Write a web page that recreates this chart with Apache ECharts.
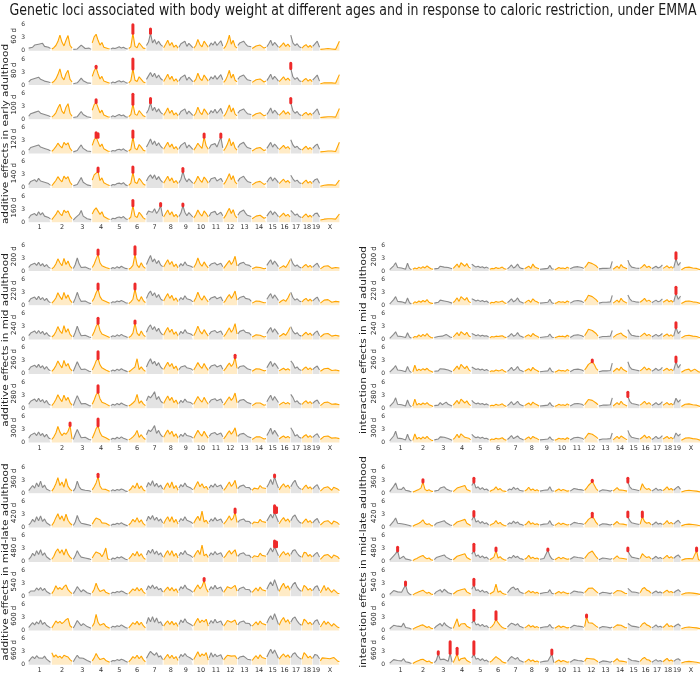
<!DOCTYPE html>
<html>
<head>
<meta charset="utf-8">
<script src="https://cdn.jsdelivr.net/npm/echarts@6/dist/echarts.min.js"></script>
<style>html,body{margin:0;padding:0;background:#fff}#c{width:700px;height:673px}</style>
</head>
<body>
<div id="c"></div>
<script>
// ---------- chromosome axis ----------
const chrNames = ['1','2','3','4','5','6','7','8','9','10','11','12','13','14','15','16','17','18','19','X'];
const chrLengths = [195.5,182.1,160.0,156.5,151.8,149.7,145.4,129.4,124.6,130.7,122.1,120.1,120.4,124.9,104.0,98.2,95.3,90.7,61.4,171.0];
const yTickValues = [0,3,6];

const titleText = 'Genetic loci associated with body weight at different ages and in response to caloric restriction, under EMMA';
const groupLabels = ['additive effects in early adulthood','additive effects in mid adulthood','additive effects in mid-late adulthood','interaction effects in mid adulthood','interaction effects in mid-late adulthood'];
const earlyAges = ['60 d','80 d','100 d','120 d','140 d','160 d'];
const midAges = ['200 d','220 d','240 d','260 d','280 d','300 d'];
const lateAges = ['360 d','420 d','480 d','540 d','600 d','660 d'];

// ---------- -log10(p) traces, one sub-array per chromosome ----------
const a060 = [
[0.6,1.0,0.8,1.3,0.9,1.5,1.1,1.7,1.0,1.4,0.8,0.5],[0.4,0.7,1.2,2.1,3.6,2.0,1.1,2.4,3.5,1.2,0.6],[0.3,0.5,0.4,0.8,1.3,0.9,0.5,0.4,0.6,0.3],[1.8,3.2,3.8,2.4,1.3,1.9,0.8,0.6,0.5,0.4],[0.4,0.6,0.5,0.7,0.9,0.6,0.8,0.5,0.4],[0.5,0.9,4.0,1.0,0.7,1.8,1.2,0.6,0.5],[1.2,2.0,4.0,1.8,2.6,1.5,2.2,1.4,1.0],[0.7,1.5,2.4,1.2,1.9,0.8,1.3,0.6],[0.8,1.6,1.2,2.2,1.0,1.7,1.3,0.7],[0.6,1.2,2.6,1.4,0.9,2.2,1.5,0.8],[1.0,1.8,1.3,2.1,1.2,1.6,2.3,1.1],[0.5,1.0,2.0,3.6,1.5,2.4,1.0,0.6],[1.2,1.8,1.4,2.2,1.6,1.1,1.5,0.9],[0.5,0.8,1.1,0.7,1.3,0.9,0.6,0.8],[0.9,1.6,2.4,1.2,1.9,1.4,0.8],[0.7,1.2,1.8,1.0,1.5,0.9],[3.6,1.8,1.2,1.6,0.9,0.7],[0.6,1.1,1.4,0.8,1.2,0.7],[1.0,1.6,2.2,0.8],[0.3,0.5,0.4,0.6,0.5,0.3,0.4,0.5,0.3,0.6,2.2]];
const a080 = [
[0.7,1.2,0.9,1.5,1.1,1.8,1.3,1.6,0.9,1.2,0.7,0.5],[0.5,0.8,1.4,2.4,3.7,1.8,1.2,2.6,3.4,1.3,0.7],[0.3,0.6,0.5,1.0,1.6,1.0,0.6,0.5,0.7,0.4],[2.0,3.3,4.0,2.6,1.4,2.0,0.9,0.7,0.6,0.4],[0.4,0.7,0.5,0.8,1.0,0.7,0.9,0.6,0.4],[0.5,1.0,3.7,1.1,0.8,1.9,1.3,0.7,0.5],[1.3,2.1,2.9,1.9,2.7,1.6,2.3,1.5,1.1],[0.8,1.6,2.5,1.3,2.0,0.9,1.4,0.7],[0.9,1.7,1.3,2.3,1.1,1.8,1.4,0.8],[0.7,1.3,2.7,1.5,1.0,2.3,1.6,0.9],[1.1,1.9,1.4,2.2,1.3,1.7,2.4,1.2],[0.6,1.1,2.1,3.4,1.6,2.5,1.1,0.7],[1.3,1.9,1.5,2.3,1.7,1.2,1.6,1.0],[0.6,0.9,1.2,0.8,1.4,1.0,0.7,0.9],[1.0,1.7,2.5,1.3,2.0,1.5,0.9],[0.8,1.3,1.9,1.1,1.6,1.0],[3.8,1.9,1.3,1.7,1.0,0.8],[0.7,1.2,1.5,0.9,1.3,0.8],[1.1,1.7,2.3,0.9],[0.3,0.6,0.5,0.7,0.5,0.4,0.5,0.6,0.4,0.7,2.4]];
const a100 = [
[0.7,1.3,1.0,1.6,1.2,1.9,1.4,1.8,1.1,1.3,0.8,0.6],[0.5,0.9,1.5,2.6,3.5,1.9,1.3,2.8,3.6,1.4,0.7],[0.4,0.7,0.6,1.2,1.8,1.1,0.7,0.6,0.8,0.4],[2.1,3.4,3.9,2.7,1.5,2.1,1.0,0.8,0.6,0.5],[0.5,0.8,0.6,0.9,1.1,0.8,1.0,0.6,0.5],[0.6,1.1,3.5,1.2,0.9,2.0,1.4,0.8,0.6],[1.4,2.2,3.8,2.0,2.8,1.7,2.4,1.6,1.2],[0.9,1.7,2.6,1.4,2.1,1.0,1.5,0.8],[1.0,1.8,1.4,2.4,1.2,1.9,1.5,0.9],[0.8,1.4,2.8,1.6,1.1,2.4,1.7,1.0],[1.2,2.0,1.5,2.3,1.4,1.8,2.5,1.3],[0.7,1.2,2.2,3.3,1.7,2.6,1.2,0.8],[1.4,2.0,1.6,2.4,1.8,1.3,1.7,1.1],[0.7,1.0,1.3,0.9,1.5,1.1,0.8,1.0],[1.1,1.8,2.6,1.4,2.1,1.6,1.0],[0.9,1.4,2.0,1.2,1.7,1.1],[3.8,2.0,1.4,1.8,1.1,0.9],[0.8,1.3,1.6,1.0,1.4,0.9],[1.2,1.8,2.4,1.0],[0.4,0.6,0.5,0.8,0.6,0.4,0.6,0.7,0.5,0.8,2.5]];
const a120 = [
[0.8,1.4,1.1,1.7,1.3,2.0,1.5,1.9,1.2,1.6,0.9,0.6],[0.5,1.0,1.6,2.4,1.8,1.3,2.6,2.0,2.5,1.2,0.6],[0.4,0.8,0.7,1.4,2.0,1.2,0.8,0.6,0.9,0.5],[1.9,3.2,3.8,3.8,1.6,2.2,1.1,0.8,0.6,0.5],[0.5,0.7,0.6,0.9,1.0,0.8,1.1,0.7,0.5],[0.6,1.0,3.8,1.2,0.9,2.1,1.5,0.8,0.6],[1.5,2.4,3.4,2.1,2.9,1.8,2.5,1.7,1.2],[1.0,1.8,2.6,1.5,2.2,1.1,1.6,0.9],[1.1,1.9,1.5,2.6,1.3,2.0,1.6,1.0],[0.8,1.5,2.4,1.7,1.2,3.8,1.8,1.0],[1.2,2.0,1.6,2.3,1.5,1.9,3.8,1.3],[0.7,1.3,2.2,3.5,1.8,2.7,1.3,0.8],[1.4,2.1,1.7,2.6,1.9,1.4,1.8,1.1],[0.6,0.9,1.2,0.8,1.4,1.0,0.7,0.9],[1.2,1.9,2.6,1.5,2.2,1.7,1.1],[0.9,1.4,1.9,1.2,1.6,1.0],[3.2,2.0,1.4,1.7,1.1,0.9],[0.8,1.3,1.7,1.0,1.4,0.9],[1.2,1.8,2.2,1.0],[0.4,0.6,0.5,0.7,0.6,0.4,0.6,0.7,0.5,0.9,2.6]];
const a140 = [
[0.8,1.5,1.2,1.9,1.4,2.2,1.6,2.0,1.3,1.7,1.0,0.6],[0.5,1.1,1.7,2.6,1.9,1.4,2.7,2.1,2.6,1.3,0.7],[0.5,0.9,0.8,1.6,2.4,1.3,0.9,0.7,1.0,0.5],[1.8,3.0,3.4,3.8,1.7,2.3,1.2,0.9,0.7,0.5],[0.5,0.8,0.7,1.0,1.1,0.9,1.2,0.7,0.5],[0.6,1.1,3.6,1.3,1.0,2.2,1.6,0.9,0.6],[1.6,2.5,3.0,2.2,3.0,1.9,2.6,1.8,1.3],[1.1,1.9,2.7,1.6,2.3,1.2,1.7,1.0],[1.2,2.0,3.8,2.2,1.4,2.1,1.7,1.1],[0.9,1.6,2.7,1.8,1.3,2.5,1.9,1.1],[1.3,2.1,1.7,2.4,1.6,2.0,2.2,1.4],[0.8,1.4,2.3,3.3,1.9,2.8,1.4,0.9],[1.5,2.2,1.8,2.7,2.0,1.5,1.9,1.2],[0.7,1.0,1.3,0.9,1.5,1.1,0.8,1.0],[1.3,2.0,2.5,1.6,2.3,1.8,1.2],[1.0,1.5,2.0,1.3,1.7,1.1],[2.9,2.1,1.5,1.8,1.2,1.0],[0.9,1.4,1.8,1.1,1.5,1.0],[1.3,1.9,2.1,1.1],[0.4,0.7,0.6,0.8,0.7,0.5,0.7,0.8,0.6,1.0,1.8]];
const a160 = [
[0.9,1.6,1.3,2.0,1.5,2.4,1.7,2.2,1.4,1.8,1.1,0.7],[0.6,1.2,1.8,2.7,2.0,1.5,2.8,2.2,2.6,1.4,0.8],[0.5,1.0,0.9,1.8,2.7,1.4,1.0,0.8,1.1,0.6],[1.9,2.8,3.3,3.0,1.8,2.4,1.3,1.0,0.8,0.6],[0.6,0.9,0.8,1.1,1.2,1.0,1.3,0.8,0.6],[0.7,1.2,3.8,1.4,1.1,2.3,1.7,1.0,0.7],[1.7,2.6,2.4,2.3,3.1,2.0,2.7,3.8,1.4],[1.2,2.0,2.8,1.7,2.4,1.3,1.8,1.1],[1.3,2.1,3.8,2.3,1.5,2.2,1.8,1.2],[1.0,1.7,2.8,1.9,1.4,2.6,2.0,1.2],[1.4,2.2,1.8,2.5,1.7,2.1,2.3,1.5],[0.9,1.5,2.4,3.2,2.0,2.9,1.5,1.0],[1.6,2.3,1.9,2.8,2.1,1.6,2.0,1.3],[0.8,1.1,1.4,1.0,1.6,1.2,0.9,1.1],[1.4,2.1,2.6,1.7,2.4,1.9,1.3],[1.1,1.6,2.1,1.4,1.8,1.2],[2.7,2.2,1.6,1.9,1.3,1.1],[1.0,1.5,1.9,1.2,1.6,1.1],[1.4,2.0,2.1,1.2],[0.5,0.8,0.7,0.9,0.8,0.6,0.8,0.9,0.7,1.1,1.9]];
const a200 = [
[0.8,1.4,1.1,1.8,1.3,2.0,1.2,1.7,1.0,1.5,0.9,0.6],[0.5,0.9,1.6,2.8,1.9,1.2,2.9,1.5,2.3,1.1,0.6],[0.6,1.5,3.0,1.6,0.8,0.6,0.9,0.7,0.5,0.4],[0.8,1.6,2.8,3.8,1.9,1.2,1.5,0.8,0.6,0.5],[0.5,0.8,0.6,1.0,0.7,1.1,0.8,0.6,0.5],[0.4,0.7,1.3,3.8,1.4,0.8,1.9,1.0,0.6],[1.5,2.6,3.6,2.1,2.8,1.7,2.4,1.4,1.0],[0.9,1.8,2.6,1.5,2.2,1.0,1.6,0.7],[1.0,1.7,1.2,2.1,1.4,1.8,1.1,0.8],[0.8,1.6,3.0,1.7,1.1,2.1,1.3,0.7],[1.1,1.6,1.2,1.9,1.4,1.5,1.8,1.0],[0.6,1.0,1.8,2.4,1.5,2.2,3.4,1.2],[1.2,1.7,1.4,2.0,1.5,1.1,1.3,0.9],[0.5,0.7,0.9,0.6,0.8,0.7,0.5,0.6],[1.3,2.0,2.6,1.5,2.3,1.7,1.0],[0.6,0.9,1.2,0.8,1.6,2.6],[2.9,1.7,1.1,1.4,0.9,0.7],[0.7,1.2,1.5,0.9,1.3,0.8],[0.9,1.4,1.8,0.8],[0.5,0.8,1.1,0.7,1.2,0.9,0.6,1.0,0.8,0.5,0.7]];
const a220 = [
[0.8,1.5,1.2,1.9,1.3,2.1,1.3,1.8,1.1,1.6,0.9,0.6],[0.5,1.0,1.7,2.9,2.0,1.3,3.0,1.6,2.4,1.2,0.6],[0.6,1.6,3.0,1.7,0.9,0.7,1.0,0.7,0.5,0.4],[0.9,1.7,2.9,3.75,2.0,1.3,1.6,0.9,0.6,0.5],[0.5,0.8,0.7,1.0,0.8,1.1,0.9,0.6,0.5],[0.4,0.8,1.4,3.75,1.5,0.9,2.0,1.1,0.6],[1.6,2.7,3.3,2.2,2.9,1.8,2.5,1.5,1.1],[1.0,1.9,2.7,1.6,2.3,1.1,1.7,0.8],[1.1,1.8,1.3,2.2,1.5,1.9,1.2,0.8],[0.8,1.7,3.0,1.8,1.2,2.2,1.4,0.8],[1.2,1.7,1.3,2.0,1.5,1.6,1.9,1.0],[0.6,1.1,1.9,2.5,1.6,2.3,3.3,1.2],[1.3,1.8,1.5,2.1,1.6,1.2,1.4,0.9],[0.5,0.8,1.0,0.7,0.9,0.7,0.6,0.6],[1.4,2.1,2.7,1.6,2.4,1.8,1.1],[0.6,1.0,1.3,0.9,1.7,2.7],[3.0,1.8,1.2,1.5,1.0,0.8],[0.8,1.3,1.6,1.0,1.4,0.9],[1.0,1.5,1.9,0.9],[0.5,0.9,1.2,0.8,1.3,1.0,0.7,1.1,0.9,0.6,0.8]];
const a240 = [
[0.9,1.5,1.2,2.0,1.4,2.1,1.4,1.9,1.1,1.6,1.0,0.7],[0.6,1.0,1.8,3.0,2.0,1.4,3.2,1.7,2.5,1.2,0.7],[0.6,1.7,3.1,1.8,0.9,0.7,1.0,0.8,0.6,0.5],[0.9,1.8,3.0,3.8,2.1,1.3,1.7,0.9,0.7,0.5],[0.6,0.9,0.7,1.1,0.8,1.2,0.9,0.7,0.5],[0.5,0.8,1.5,3.8,1.5,0.9,2.0,1.1,0.7],[1.7,2.8,3.4,2.3,3.0,1.9,2.6,1.6,1.1],[1.0,2.0,2.8,1.7,2.4,1.2,1.8,0.8],[1.1,1.9,1.4,2.3,1.6,2.0,1.3,0.9],[0.9,1.8,3.1,1.9,1.3,2.3,1.5,0.8],[1.2,1.8,1.4,2.1,1.6,1.7,2.0,1.1],[0.7,1.2,2.0,2.7,1.7,2.4,3.7,1.3],[1.3,1.9,1.6,2.2,1.7,1.3,1.5,1.0],[0.6,0.8,1.1,0.7,1.0,0.8,0.6,0.7],[1.4,2.2,2.8,1.7,2.5,1.9,1.2],[0.7,1.0,1.4,1.0,1.8,2.8],[3.0,1.9,1.3,1.6,1.0,0.8],[0.8,1.3,1.7,1.1,1.5,0.9],[1.0,1.6,2.0,0.9],[0.6,0.9,1.3,0.9,1.4,1.1,0.8,1.2,1.0,0.6,0.8]];
const a260 = [
[0.9,1.6,1.3,2.0,1.5,2.2,1.4,1.9,1.1,1.7,1.0,0.7],[0.6,1.1,1.9,3.0,2.1,1.4,3.1,1.8,2.4,1.2,0.7],[0.6,1.7,2.8,1.8,1.0,0.8,1.1,0.8,0.6,0.5],[0.9,1.8,3.0,3.55,2.1,1.4,1.7,0.9,0.7,0.5],[0.6,0.9,0.7,1.1,0.8,1.2,0.9,0.7,0.5],[0.5,0.8,1.2,1.6,3.5,1.0,1.6,1.0,0.6],[1.6,2.7,3.5,2.3,2.9,1.9,2.6,1.6,1.1],[1.0,1.9,2.7,1.7,2.4,1.2,1.8,0.8],[1.0,1.6,1.2,1.9,1.4,1.7,1.2,0.8],[0.9,1.7,2.6,1.8,1.3,2.4,1.5,0.8],[1.2,1.8,1.4,2.1,1.6,1.7,2.0,1.1],[0.7,1.2,1.9,2.5,1.7,2.3,3.8,1.3],[1.2,1.7,1.4,1.9,1.5,1.2,1.4,0.9],[0.6,0.9,1.2,0.8,1.1,0.9,0.7,0.8],[1.4,2.2,2.9,1.7,2.5,1.9,1.2],[0.7,1.0,1.3,0.9,1.2,0.8],[3.0,2.4,1.3,1.6,1.0,0.8],[0.8,1.3,1.6,1.0,1.4,0.9],[1.0,1.5,1.8,0.9],[0.6,0.9,1.2,0.9,1.3,1.1,0.8,1.1,0.9,0.6,0.7]];
const a280 = [
[0.9,1.6,1.3,2.1,1.5,2.3,1.5,2.0,1.2,1.8,1.0,0.7],[0.6,1.2,2.0,3.1,2.2,1.5,3.0,1.8,2.5,1.3,0.7],[0.6,1.8,2.9,1.9,1.0,0.8,1.1,0.8,0.6,0.5],[0.9,1.9,3.1,3.7,2.2,1.4,1.8,1.0,0.7,0.5],[0.6,0.9,0.7,1.1,0.8,1.2,0.9,0.7,0.5],[0.5,0.8,1.2,1.7,3.2,1.1,1.7,1.0,0.6],[1.7,2.8,2.4,3.0,3.8,2.0,2.7,1.7,1.2],[1.1,2.0,2.8,1.8,2.5,1.3,1.9,0.9],[1.1,1.8,1.3,2.1,1.5,1.8,1.3,0.9],[0.9,1.8,2.7,1.9,1.4,2.5,1.6,0.9],[1.3,1.9,1.5,2.2,1.7,1.8,2.1,1.2],[0.7,1.3,2.0,2.6,1.8,2.4,3.5,1.3],[1.3,1.8,1.5,2.0,1.6,1.3,1.5,1.0],[0.6,0.9,1.2,0.9,1.2,1.0,0.7,0.8],[1.5,2.3,3.0,1.8,2.7,2.0,1.3],[0.7,1.1,1.4,1.0,1.3,0.9],[3.2,2.5,1.4,1.7,1.1,0.9],[0.9,1.4,1.7,1.1,1.5,1.0],[1.1,1.6,1.9,1.0],[0.6,1.0,1.3,1.0,1.4,1.2,0.9,1.2,1.0,0.7,0.8]];
const a300 = [
[1.0,1.7,1.4,2.2,1.6,2.4,1.6,2.1,1.3,1.9,1.1,0.8],[0.7,1.3,2.2,3.7,2.4,1.6,2.2,1.9,2.6,3.9,0.8],[0.7,1.9,3.0,2.0,1.1,0.9,1.2,0.9,0.7,0.6],[1.0,2.0,3.2,3.85,2.3,1.5,1.9,1.1,0.8,0.6],[0.7,1.0,0.8,1.2,0.9,1.3,1.0,0.8,0.6],[0.6,0.9,1.3,1.8,2.8,1.2,1.8,1.1,0.7],[1.8,2.9,2.5,3.1,3.9,2.1,2.8,1.8,1.3],[1.2,2.1,2.9,1.9,2.6,1.4,2.0,1.0],[1.2,1.9,1.4,2.2,1.6,1.9,1.4,1.0],[1.0,1.9,2.8,2.0,1.5,2.6,1.7,1.0],[1.4,2.0,1.6,2.3,1.8,1.9,2.2,1.3],[0.8,1.4,2.1,2.7,1.9,2.5,3.4,1.4],[1.4,1.9,1.6,2.1,1.7,1.4,1.6,1.1],[0.7,1.0,1.3,1.0,1.3,1.1,0.8,0.9],[1.6,2.4,3.3,1.9,2.8,2.1,1.4],[0.8,1.2,1.5,1.1,1.4,1.0],[3.4,2.6,1.5,1.8,1.2,1.0],[1.0,1.5,1.8,1.2,1.6,1.1],[1.2,1.7,2.0,1.1],[0.7,1.1,1.4,1.1,1.5,1.3,1.0,1.3,1.1,0.8,0.9]];
const a360 = [
[0.6,1.0,1.8,1.2,2.4,1.5,2.8,1.3,1.9,1.0,0.7,0.5],[0.5,1.2,2.2,3.6,1.8,2.6,1.4,3.4,1.6,0.9,0.6],[0.5,1.2,2.8,1.5,0.9,1.2,0.7,0.5,0.6,0.4],[0.8,1.5,2.4,3.8,1.7,1.0,1.4,0.9,0.6,0.5],[0.5,0.8,0.6,0.9,0.7,1.0,0.8,0.5,0.4],[0.6,1.0,1.8,1.2,2.4,1.1,1.7,0.8,0.5],[1.4,2.5,1.8,2.9,1.6,2.3,1.4,1.9,1.0],[0.8,1.7,2.4,1.3,2.6,1.1,1.8,0.7],[1.2,2.0,1.5,2.4,1.6,1.9,1.2,0.8],[0.9,1.8,2.7,1.5,2.2,1.2,1.6,0.8],[1.2,1.9,1.4,2.2,1.5,1.7,1.9,1.0],[0.7,1.2,1.9,2.6,1.6,2.1,3.0,1.1],[1.1,1.6,1.3,1.9,1.4,1.0,1.3,0.8],[0.7,1.2,1.6,1.0,1.8,1.3,0.9,1.1],[1.4,2.2,3.2,2.0,3.8,2.4,1.2],[0.8,1.6,2.2,1.4,1.9,1.1],[1.5,2.4,3.0,1.8,1.2,0.9],[0.8,1.4,1.9,1.1,1.5,0.9],[1.0,1.6,2.0,0.9],[0.5,0.8,1.3,0.9,1.5,1.1,0.7,1.4,1.8,1.0,0.6]];
const a420 = [
[0.6,1.1,1.9,1.3,2.5,1.6,2.7,1.4,2.0,1.1,0.7,0.5],[0.5,1.2,2.3,3.2,1.9,2.7,1.5,3.1,1.7,1.0,0.6],[0.5,1.3,2.8,1.6,1.0,1.3,0.8,0.6,0.6,0.4],[0.8,1.6,2.2,2.6,1.8,1.1,1.5,1.0,0.6,0.5],[0.5,0.8,0.7,1.0,0.8,1.1,0.8,0.6,0.4],[0.6,1.1,1.9,1.3,2.3,1.2,1.8,0.9,0.5],[1.5,2.6,1.9,2.8,1.7,2.4,1.5,2.0,1.1],[0.9,1.8,2.5,1.4,2.5,1.2,1.9,0.8],[1.3,2.1,1.6,2.5,1.7,2.0,1.3,0.9],[1.0,1.9,2.6,1.6,3.8,1.3,1.7,0.9],[1.3,2.0,1.5,2.3,1.6,1.8,2.0,1.1],[0.8,1.3,2.0,2.7,1.7,2.2,3.5,1.2],[1.2,1.7,1.4,2.0,1.5,1.1,1.4,0.9],[0.8,1.3,1.7,1.1,1.9,1.4,1.0,1.2],[1.5,2.3,3.1,2.2,3.5,3.5,1.3],[0.9,1.7,2.3,1.5,2.0,1.2],[1.6,2.5,2.9,1.9,1.3,1.0],[0.9,1.5,2.0,1.2,1.6,1.0],[1.1,1.7,2.1,1.0],[0.6,0.9,1.4,1.0,1.6,1.2,0.8,1.5,1.9,1.1,0.7]];
const a480 = [
[0.6,1.1,2.0,1.4,2.6,1.7,2.8,1.5,2.1,1.2,0.8,0.5],[0.6,1.3,2.4,3.0,2.0,2.8,1.6,3.0,1.8,1.1,0.7],[0.6,1.4,2.6,1.7,1.1,1.4,0.9,0.7,0.7,0.5],[0.9,1.7,2.3,2.4,1.9,1.2,2.0,3.2,0.7,0.5],[0.5,0.9,0.7,1.1,0.9,1.2,0.9,0.6,0.5],[0.7,1.2,2.0,1.4,2.4,1.3,1.9,1.0,0.6],[1.6,2.7,2.0,2.9,1.8,2.5,1.6,2.1,1.2],[1.0,1.9,2.6,1.5,2.6,1.3,2.0,0.9],[1.4,2.2,1.7,2.6,1.8,2.1,1.4,1.0],[1.1,2.0,2.7,1.7,3.9,1.4,1.8,1.0],[1.4,2.1,1.6,2.4,1.7,1.9,2.1,1.2],[0.9,1.4,2.1,2.6,1.8,2.3,2.8,1.3],[1.3,1.8,1.5,2.1,1.6,1.2,1.5,1.0],[0.9,1.4,1.8,1.2,2.0,1.5,1.1,1.3],[1.6,2.4,3.2,2.3,3.5,3.5,1.4],[1.0,1.8,2.4,1.6,2.1,1.3],[1.7,2.6,2.8,2.0,1.4,1.1],[1.0,2.2,2.1,1.3,1.7,1.1],[1.2,1.8,2.2,1.1],[0.6,1.0,1.5,1.1,1.7,1.3,0.9,1.6,2.0,1.2,0.7]];
const a540 = [
[0.7,1.2,1.6,1.2,1.9,1.4,2.0,1.3,1.8,1.1,0.8,0.5],[0.6,1.3,2.4,1.6,2.0,1.5,2.2,2.6,1.5,1.0,0.6],[0.6,1.3,2.2,1.6,1.0,1.5,1.9,0.8,0.7,0.5],[0.8,1.6,3.0,1.8,1.1,1.3,1.5,0.9,0.6,0.5],[0.6,0.9,0.8,1.1,0.9,1.2,1.0,0.7,0.5],[0.6,1.1,1.7,1.3,2.0,1.2,1.8,1.0,0.6],[1.4,2.4,1.8,2.6,1.7,2.2,1.5,1.8,1.0],[0.9,1.6,2.1,1.3,2.0,1.2,1.7,0.8],[1.3,2.2,1.7,2.6,1.8,2.0,1.3,0.9],[1.0,1.9,2.6,1.7,2.3,3.6,1.8,0.9],[1.4,2.2,1.6,2.5,1.7,1.9,2.1,1.1],[0.9,1.5,2.2,2.6,1.8,2.2,2.5,1.2],[1.2,1.8,1.5,2.1,1.6,1.2,1.5,0.9],[0.9,1.4,1.9,1.2,2.1,1.5,1.1,1.2],[1.6,2.6,3.3,2.4,3.8,2.6,1.3],[1.1,2.2,3.0,1.8,2.4,1.4],[1.8,2.7,3.2,2.1,1.5,1.1],[1.1,2.5,2.1,1.4,1.8,1.2],[1.3,2.1,2.4,1.2],[0.8,1.6,2.5,1.3,2.0,1.4,0.9,1.5,1.2,0.7,0.6]];
const a600 = [
[0.7,1.3,1.8,1.3,2.0,1.5,2.4,1.4,1.9,1.2,0.8,0.6],[0.6,1.4,2.2,1.7,2.1,1.6,2.0,2.5,2.8,1.1,0.7],[0.6,1.4,2.3,1.7,1.1,1.6,2.0,0.9,0.7,0.5],[0.9,1.7,3.7,1.9,1.2,1.4,1.6,1.0,0.7,0.5],[0.6,1.0,0.8,1.1,0.9,1.3,1.0,0.7,0.5],[0.6,1.2,1.8,1.4,2.1,1.3,1.9,1.1,0.6],[1.6,3.0,2.0,3.2,1.9,2.9,1.7,2.0,1.1],[1.0,1.7,2.2,1.4,2.1,1.3,1.8,0.9],[1.4,2.4,1.8,2.7,1.9,2.1,1.4,1.0],[1.1,2.0,2.8,1.8,2.4,2.0,2.6,1.0],[1.5,2.3,1.7,2.6,1.8,2.0,2.2,1.2],[1.0,1.6,2.3,2.5,1.9,2.3,2.4,1.3],[1.3,1.9,1.6,2.2,1.7,1.3,1.6,1.0],[1.0,1.5,2.0,1.3,2.2,1.6,1.2,1.3],[1.7,2.7,3.4,2.5,3.9,2.7,1.4],[1.2,2.3,3.0,1.9,2.5,1.5],[1.9,2.8,3.1,2.2,1.6,1.2],[1.2,2.6,2.2,1.5,1.9,1.3],[1.4,2.2,2.5,1.3],[0.8,1.5,2.2,1.4,2.0,1.5,1.0,1.6,1.3,0.8,0.6]];
const a660 = [
[0.8,1.4,1.9,1.4,2.1,1.6,2.0,1.5,2.0,1.3,0.9,0.6],[2.8,1.8,2.3,1.7,2.0,1.5,2.2,2.0,1.8,1.2,0.8],[0.7,1.5,2.2,1.6,1.2,1.5,1.8,1.0,0.8,0.6],[0.9,1.6,2.6,1.8,1.2,1.4,1.5,1.0,0.8,0.6],[0.7,1.0,0.9,1.2,1.0,1.3,1.1,0.8,0.6],[0.7,1.2,1.9,1.5,2.2,1.4,2.0,1.2,0.7],[1.5,2.4,3.1,2.6,2.2,2.8,1.8,2.1,1.2],[1.1,1.8,2.4,1.5,2.2,1.4,1.9,1.0],[1.5,2.4,1.9,2.6,2.0,2.2,1.5,1.1],[1.2,2.1,3.0,1.9,2.5,2.1,2.8,1.1],[1.6,2.8,1.8,2.5,1.9,2.1,2.3,1.3],[1.1,1.7,2.2,1.9,2.0,2.2,2.1,1.4],[1.3,1.8,1.5,2.0,1.6,1.3,1.7,1.1],[1.0,1.6,2.1,1.4,2.3,1.7,1.3,1.4],[1.8,2.8,3.6,2.6,3.4,2.5,1.5],[1.3,2.0,2.5,1.8,2.3,1.6],[1.7,2.5,2.8,2.0,1.6,1.3],[1.3,2.8,2.3,1.6,2.0,1.4],[1.5,2.4,2.2,1.4],[0.9,1.6,2.0,1.5,1.9,1.4,1.1,1.7,1.4,0.9,0.7]];
const i200 = [
[0.3,0.6,1.2,1.9,0.8,0.5,0.7,1.0,0.4,1.8,0.6,0.3],[0.4,0.7,0.5,0.9,0.6,1.0,0.7,1.2,0.8,0.5,0.4],[0.5,0.8,0.6,1.1,0.7,0.9,1.2,0.8,0.6,0.5],[0.6,1.0,1.6,0.8,1.9,2.3,1.1,1.7,0.9,0.6],[1.6,1.2,0.9,1.1,0.8,1.0,0.7,0.9,0.6],[0.4,0.6,0.5,0.8,0.6,0.7,0.9,0.5,0.4],[0.5,0.9,1.4,0.7,1.0,1.6,0.8,0.6,0.5],[0.5,0.8,1.1,0.6,1.6,0.9,0.7,0.5],[0.4,0.7,0.5,0.8,0.6,1.3,0.5,0.4],[0.3,0.5,0.8,0.6,0.7,0.5,0.9,0.6],[0.5,0.7,0.9,0.6,1.0,1.2,0.8,0.6],[0.8,1.3,2.0,2.3,1.7,2.1,1.2,0.7],[0.5,0.7,0.6,0.8,0.6,0.5,0.7,2.2],[0.4,0.8,1.1,0.6,1.5,0.9,0.7,0.5],[2.5,1.4,0.9,1.2,0.7,0.9,0.6],[0.6,1.0,1.5,0.8,1.1,0.7],[0.5,0.8,1.1,0.7,0.9,1.4],[0.6,0.9,1.2,0.7,1.0,0.6],[0.7,2.8,1.3,2.0],[0.3,0.5,0.8,0.6,0.9,0.5,0.7,1.0,0.6,0.4,0.3]];
const i220 = [
[0.3,0.7,1.3,2.0,0.9,0.5,0.8,1.1,0.5,1.7,0.6,0.3],[0.4,0.8,0.6,1.0,0.7,1.1,0.8,1.3,0.7,0.5,0.4],[0.5,0.9,0.7,1.2,0.8,1.0,1.3,0.8,0.6,0.5],[0.6,1.1,1.7,0.9,2.0,2.1,1.2,1.8,0.9,0.6],[1.5,1.3,1.0,1.2,0.9,1.1,0.8,1.0,0.6],[0.4,0.7,0.6,0.9,0.7,0.8,1.0,0.6,0.4],[0.6,1.0,1.5,0.8,1.1,1.7,0.9,0.7,0.5],[0.5,0.9,1.2,0.7,1.5,1.0,0.8,0.5],[0.5,0.8,0.6,0.9,0.7,1.4,0.6,0.4],[0.4,0.6,0.9,0.7,0.8,0.6,1.0,0.7],[0.5,0.8,1.0,0.7,1.1,1.3,0.9,0.6],[0.9,1.5,2.3,2.7,2.0,2.4,1.3,0.8],[0.5,0.8,0.7,0.9,0.7,0.6,0.8,2.3],[0.5,0.9,1.2,0.7,1.6,1.0,0.8,0.5],[2.4,1.5,1.0,1.3,0.8,1.0,0.7],[0.7,1.1,1.6,0.9,1.2,0.8],[0.6,0.9,1.2,0.8,1.0,1.5],[0.7,1.0,1.3,0.8,1.1,0.7],[0.8,2.75,1.4,2.1],[0.4,0.6,0.9,0.7,1.0,0.6,0.8,1.1,0.7,0.5,0.4]];
const i240 = [
[0.3,0.6,1.2,1.8,0.8,0.5,0.7,1.0,0.5,1.6,0.6,0.3],[0.4,0.7,0.6,1.1,0.7,1.2,0.8,1.4,0.8,0.5,0.4],[0.5,0.8,0.7,1.1,0.8,1.0,1.2,0.8,0.6,0.5],[0.6,1.0,1.6,0.9,1.8,2.0,1.1,1.7,0.9,0.6],[1.4,1.2,0.9,1.1,0.8,1.0,0.8,0.9,0.6],[0.4,0.7,0.6,0.8,0.7,0.8,0.9,0.6,0.4],[0.6,0.9,1.4,0.8,1.0,1.6,0.9,0.7,0.5],[0.5,0.9,1.1,0.7,1.4,1.0,0.8,0.5],[0.5,0.8,0.6,0.9,0.7,1.3,0.6,0.4],[0.4,0.6,0.8,0.7,0.8,0.6,1.0,0.7],[0.5,0.8,1.0,0.7,1.1,1.2,0.9,0.6],[0.9,1.6,2.4,2.8,2.1,2.5,1.4,0.8],[0.5,0.8,0.7,0.9,0.7,0.6,0.8,2.1],[0.5,0.9,1.2,0.8,1.5,1.0,0.8,0.5],[2.3,1.5,1.0,1.3,0.8,1.0,0.7],[0.7,1.1,1.5,0.9,1.2,0.8],[0.6,0.9,1.2,0.8,1.0,1.4],[0.7,1.0,1.3,0.8,1.1,0.7],[0.8,2.8,1.4,2.0],[0.4,0.6,0.9,0.7,1.0,0.6,0.8,1.0,0.7,0.5,0.4]];
const i260 = [
[0.4,0.7,1.3,1.9,0.9,0.6,0.8,1.1,0.5,1.7,0.7,0.3],[0.5,2.0,0.7,1.1,0.8,1.2,0.9,1.3,0.8,0.6,0.4],[0.6,0.9,0.7,1.2,0.8,1.1,1.3,0.9,0.7,0.5],[0.7,1.1,1.8,1.0,2.2,1.9,1.2,1.8,1.0,0.6],[1.6,1.3,1.0,1.2,0.9,1.1,0.8,1.0,0.7],[0.5,0.7,0.6,0.9,0.7,0.8,1.0,0.6,0.4],[0.6,1.0,1.5,0.8,1.1,1.7,0.9,0.7,0.5],[0.6,0.9,1.2,0.7,1.5,1.0,0.8,0.5],[0.5,0.8,0.6,1.0,0.7,1.4,0.6,0.4],[0.4,0.6,0.9,0.7,0.8,0.6,1.0,0.7],[0.5,0.8,1.0,0.7,1.1,1.3,0.9,0.6],[0.9,1.5,2.2,2.5,2.8,2.2,1.3,0.8],[0.5,0.8,0.7,0.9,0.7,0.6,0.8,2.5],[0.5,0.9,1.3,0.8,1.6,1.0,0.8,0.5],[2.8,1.6,1.1,1.4,0.9,1.1,0.7],[0.7,1.1,1.6,0.9,1.3,0.8],[0.6,0.9,1.3,0.8,1.0,1.5],[0.7,1.0,1.3,0.8,1.1,0.7],[0.8,2.8,1.4,2.2],[0.4,0.6,0.9,0.7,1.1,0.6,0.8,1.1,0.7,0.5,0.4]];
const i280 = [
[0.4,0.7,1.4,2.4,0.9,0.6,0.8,1.2,0.5,1.9,0.7,0.3],[0.5,2.1,0.7,1.1,0.8,1.2,0.9,1.3,0.8,0.6,0.4],[0.6,0.9,0.7,1.3,0.8,1.1,1.4,0.9,0.7,0.5],[0.7,1.1,1.8,1.0,2.1,1.9,1.2,1.7,1.0,0.6],[1.8,1.3,1.0,1.2,0.9,1.1,0.8,1.0,0.7],[0.5,0.7,0.6,0.9,0.7,0.8,1.0,0.6,0.4],[0.6,1.0,1.5,0.8,1.1,1.6,0.9,0.7,0.5],[0.6,0.9,1.2,0.7,1.4,1.0,0.8,0.5],[0.5,0.8,0.6,1.0,0.7,1.3,0.6,0.4],[0.4,0.6,0.9,0.7,0.8,0.6,1.0,0.7],[0.5,0.8,1.0,0.7,1.1,1.2,0.9,0.6],[0.8,1.4,2.0,2.2,1.8,2.0,1.2,0.8],[0.5,0.8,0.7,0.9,0.7,0.6,0.8,2.4],[0.5,0.9,1.3,0.8,1.6,1.0,0.8,0.5],[2.7,1.6,1.1,1.4,0.9,1.2,0.7],[0.7,1.1,1.6,0.9,1.3,0.8],[0.6,0.9,1.3,0.8,1.0,1.5],[0.7,1.0,1.3,0.8,1.1,0.7],[0.8,2.3,1.4,2.0],[0.4,0.6,0.9,0.7,1.0,0.6,0.8,1.1,0.7,0.5,0.4]];
const i300 = [
[0.4,0.8,1.5,2.6,1.0,0.6,0.9,1.2,0.6,1.9,0.7,0.3],[0.5,2.0,0.8,1.2,0.8,1.3,0.9,1.4,0.9,0.6,0.4],[0.6,1.0,0.8,1.3,0.9,1.2,1.4,0.9,0.7,0.5],[0.7,1.2,1.9,1.1,2.0,1.8,1.2,1.6,1.0,0.6],[1.9,1.4,1.1,1.3,1.0,1.2,0.9,1.0,0.7],[0.5,0.8,0.7,1.0,0.8,0.9,1.1,0.7,0.5],[0.7,1.1,1.6,0.9,1.2,1.5,1.0,0.8,0.6],[0.6,1.0,1.3,0.8,1.4,1.1,0.9,0.6],[0.6,0.9,0.7,1.1,0.8,1.3,0.7,0.5],[0.5,0.7,1.0,0.8,0.9,0.7,1.1,0.8],[0.6,0.9,1.1,0.8,1.2,1.2,1.0,0.7],[0.9,1.5,2.1,2.4,1.9,2.1,1.3,0.9],[0.6,0.9,0.8,1.0,0.8,0.7,0.9,2.2],[0.6,1.0,1.4,0.9,1.5,1.1,0.9,0.6],[2.8,1.7,1.2,1.5,1.0,1.3,0.8],[0.8,1.2,1.7,1.0,1.4,0.9],[0.7,1.0,1.4,0.9,1.1,1.6],[0.8,1.1,1.4,0.9,1.2,0.8],[0.9,2.2,1.5,2.0],[0.5,0.7,1.0,0.8,1.1,0.7,0.9,1.2,0.8,0.6,0.5]];
const i360 = [
[0.4,0.8,1.6,2.4,1.0,0.6,0.9,1.4,0.7,1.1,0.5,0.3],[0.3,0.5,0.7,0.9,1.2,2.6,0.9,0.6,0.8,0.5,0.4],[0.5,0.9,0.7,1.2,0.8,1.5,1.0,0.7,0.6,0.5],[0.4,0.7,1.2,0.8,1.5,1.1,1.8,0.9,0.6,0.5],[1.8,2.6,1.2,1.5,0.9,1.3,0.8,1.0,0.6],[0.4,0.7,0.9,1.5,0.8,1.1,0.6,0.5,0.4],[0.6,1.0,0.8,1.4,0.9,1.2,0.7,0.6,0.5],[0.5,0.8,1.4,0.7,1.0,0.6,0.8,0.5],[0.5,0.9,0.7,1.1,0.8,1.5,0.6,0.5],[0.4,0.7,1.0,0.6,0.9,0.7,0.5,0.6],[0.5,0.8,1.1,0.7,0.9,1.3,0.8,0.6],[0.7,1.2,1.8,2.1,2.7,1.9,1.1,0.6],[0.4,0.6,0.8,0.5,0.7,0.6,0.5,0.7],[0.5,0.9,1.3,0.8,1.2,0.7,0.6,0.5],[2.6,1.5,1.0,1.3,0.8,0.9,0.6],[0.7,2.2,1.3,0.9,1.1,0.6],[0.5,0.8,1.2,0.7,0.9,0.6],[0.6,1.0,1.5,0.8,1.1,0.7],[0.7,1.2,1.6,0.9],[0.3,0.4,0.6,0.5,0.7,0.4,0.6,0.8,0.5,0.4,0.3]];
const i420 = [
[0.4,0.8,1.5,2.2,1.0,0.6,0.9,1.3,0.7,1.0,0.5,0.3],[0.3,0.6,0.8,1.0,1.3,1.8,1.0,0.7,0.9,0.5,0.4],[0.5,1.0,0.8,1.3,0.9,1.6,1.1,0.8,0.6,0.5],[0.5,0.8,1.3,0.9,1.6,1.2,1.9,1.0,0.7,0.5],[1.7,2.7,1.3,1.6,1.0,1.4,0.9,1.1,0.6],[0.5,0.8,1.0,1.6,0.9,1.2,0.7,0.5,0.4],[0.7,1.1,0.9,1.5,1.0,1.3,0.8,0.7,0.5],[0.6,0.9,1.5,0.8,1.1,0.7,0.9,0.6],[0.6,1.0,0.8,1.2,0.9,1.6,0.7,0.5],[0.5,0.8,1.1,0.7,1.0,0.8,0.6,0.7],[0.6,0.9,1.2,0.8,1.0,1.4,0.9,0.7],[0.8,1.3,1.9,2.2,2.5,2.0,1.2,0.7],[0.5,0.7,0.9,0.6,0.8,0.7,0.6,0.8],[0.6,1.0,1.4,0.9,1.3,0.8,0.7,0.6],[2.5,1.6,1.1,1.4,0.9,1.0,0.7],[0.8,2.5,1.4,1.0,1.2,0.7],[0.6,0.9,1.3,0.8,1.0,0.7],[0.7,1.1,1.6,0.9,1.2,0.8],[0.8,1.3,1.7,1.0],[0.4,0.5,0.7,0.6,0.8,0.5,0.7,0.9,0.6,0.5,0.4]];
const i480 = [
[0.4,0.8,1.4,1.9,2.6,0.7,0.9,1.3,0.7,1.1,0.5,0.3],[0.3,0.6,0.8,1.1,1.3,1.5,1.0,0.7,0.9,0.5,0.4],[0.5,1.0,0.8,1.3,0.9,1.6,1.1,0.8,0.6,0.5],[0.5,0.8,1.3,0.9,1.6,1.2,1.9,1.0,0.7,0.5],[1.8,2.6,1.3,1.6,1.0,1.4,0.9,1.1,0.6],[0.5,0.8,1.1,2.6,0.9,1.2,0.7,0.5,0.4],[0.7,1.1,0.9,1.5,1.0,1.3,0.8,0.7,0.5],[0.6,0.9,1.5,0.8,1.1,0.7,0.9,0.6],[0.6,1.0,0.8,1.2,2.7,1.4,0.7,0.5],[0.5,0.8,1.1,0.7,1.0,0.8,0.6,0.7],[0.6,0.9,1.2,0.8,1.0,1.4,0.9,0.7],[0.8,1.4,2.0,2.3,2.5,2.1,1.2,0.7],[0.5,0.7,0.9,0.6,0.8,0.7,0.6,0.8],[0.6,1.0,1.4,0.9,1.3,0.8,0.7,0.6],[2.6,1.7,1.1,1.4,0.9,1.0,0.7],[0.8,1.9,1.4,1.0,1.2,0.7],[0.6,0.9,1.3,0.8,1.0,0.7],[0.7,1.1,1.5,0.9,1.2,0.8],[0.8,1.3,1.6,1.0],[0.4,0.5,0.7,0.6,0.8,0.5,0.7,1.0,2.6,0.5,0.4]];
const i540 = [
[0.4,0.8,1.3,1.7,1.0,0.6,0.9,1.2,2.6,1.0,0.5,0.3],[0.3,0.6,0.8,1.0,1.2,1.4,1.0,0.7,0.9,0.5,0.4],[0.5,1.0,0.8,1.5,0.9,1.6,1.2,0.8,0.6,0.5],[0.5,0.8,1.2,0.9,1.5,1.2,1.7,1.0,0.7,0.5],[1.6,2.6,1.3,1.5,1.0,1.4,0.9,1.1,0.6],[0.5,0.8,1.1,2.8,0.9,1.2,0.7,0.5,0.4],[0.8,1.4,1.9,2.1,1.5,1.8,1.0,0.8,0.6],[0.6,0.9,1.3,0.8,1.1,0.7,0.9,0.6],[0.6,1.0,0.8,1.2,0.9,1.5,0.7,0.5],[0.5,0.8,1.1,0.7,1.0,0.8,0.6,0.7],[0.6,0.9,1.2,0.8,1.0,1.3,0.9,0.7],[0.8,1.3,1.8,2.1,1.9,1.7,1.1,0.7],[0.5,0.7,0.9,0.6,0.8,0.7,0.6,0.8],[0.6,1.0,1.3,0.9,1.2,0.8,0.7,0.6],[1.8,1.4,1.0,1.3,0.9,1.0,0.7],[0.8,1.7,2.0,1.4,1.2,0.7],[0.6,0.9,1.2,0.8,1.0,0.7],[0.7,1.1,1.4,0.9,1.1,0.8],[0.8,1.2,1.5,1.0],[0.4,0.5,0.7,0.6,0.8,0.5,0.7,0.9,0.6,0.5,0.4]];
const i600 = [
[0.4,0.8,1.2,1.5,1.0,0.6,0.9,1.7,0.7,1.0,0.5,0.3],[0.3,0.6,0.8,1.0,1.2,1.3,1.0,0.7,0.9,0.5,0.4],[0.5,1.0,0.8,1.6,1.0,1.8,1.2,0.8,0.6,0.5],[0.5,0.8,2.7,0.9,1.5,1.2,1.6,1.0,0.7,0.5],[1.7,2.4,1.3,1.5,1.0,1.4,0.9,1.1,0.6],[0.6,0.9,1.5,2.6,1.8,1.2,0.7,0.5,0.4],[0.8,1.3,1.7,1.5,1.2,1.6,1.0,0.8,0.6],[0.6,0.9,1.3,0.8,1.1,0.7,0.9,0.6],[0.6,1.0,0.8,1.2,0.9,1.4,0.7,0.5],[0.5,0.8,1.1,0.7,1.0,0.8,0.6,0.7],[0.6,0.9,1.2,0.8,1.0,1.3,0.9,0.7],[0.9,3.1,1.8,1.5,1.7,1.4,1.0,0.7],[0.5,0.7,0.9,0.6,0.8,0.7,0.6,0.8],[0.6,1.0,1.3,0.9,1.2,0.8,0.7,0.6],[1.6,1.3,1.0,1.2,0.9,1.0,0.7],[0.8,1.5,1.8,1.3,1.1,0.7],[0.6,0.9,1.3,0.8,1.0,0.7],[0.7,1.1,1.6,0.9,1.1,0.8],[0.8,1.2,1.5,1.0],[0.4,0.5,0.7,0.6,0.8,0.5,0.7,0.9,0.6,0.5,0.4]];
const i660 = [
[0.4,0.8,1.2,1.6,1.0,0.6,0.9,1.4,0.7,1.0,0.5,0.3],[0.3,0.6,0.8,1.0,1.2,1.3,1.0,0.7,0.9,0.5,0.4],[0.5,1.0,2.5,1.2,0.9,1.3,1.1,0.8,2.65,0.6],[0.5,0.8,2.5,0.9,1.4,1.1,1.6,1.0,0.7,0.5],[1.6,2.5,1.3,1.5,1.0,1.4,0.9,1.1,0.6],[0.6,0.9,1.4,1.9,1.5,1.2,0.7,0.5,0.4],[0.8,1.4,1.9,1.6,1.3,1.7,1.0,0.8,0.6],[0.6,0.9,1.3,0.8,1.1,0.7,0.9,0.6],[0.6,1.0,0.8,1.2,0.9,1.3,2.5,0.5],[0.5,0.8,1.1,0.7,1.0,0.8,0.6,0.7],[0.6,0.9,1.2,0.8,1.0,1.3,0.9,0.7],[0.8,1.5,1.6,1.4,1.5,1.3,1.0,0.7],[0.5,0.7,0.9,0.6,0.8,0.7,0.6,0.8],[0.6,1.0,1.4,0.9,1.2,0.8,0.7,0.6],[1.5,1.3,1.0,1.2,0.9,1.0,0.7],[0.8,1.4,1.7,1.2,1.1,0.7],[0.6,0.9,1.2,0.8,1.0,0.7],[0.7,1.1,1.5,0.9,1.1,0.8],[0.8,1.2,1.4,1.0],[0.4,0.5,0.7,0.6,0.8,0.5,0.7,0.9,0.6,0.5,0.4]];

// ---------- significant SNP stacks: [chromosome (20 = X), point index, low, high] ----------
const r060 = [[6,2,4.0,6.0],[7,2,4.0,5.0]];
const r080 = [[4,2,4.0,4.3],[6,2,3.7,6.0],[17,0,3.8,5.0]];
const r100 = [[4,2,3.9,4.5],[6,2,3.5,5.8],[7,2,3.8,4.8],[17,0,3.8,4.8]];
const r120 = [[4,2,3.8,4.8],[4,3,3.8,4.6],[6,2,3.8,5.2],[10,5,3.8,4.5],[11,6,3.8,4.5]];
const r140 = [[4,3,3.8,4.6],[6,2,3.6,4.8],[9,2,3.8,4.5]];
const r160 = [[6,2,3.8,5.0],[7,7,3.8,4.3],[9,2,3.8,4.2]];
const r200 = [[4,3,3.85,4.85],[6,3,3.85,5.6]];
const r220 = [[4,3,3.75,4.9],[6,3,3.75,4.9]];
const r240 = [[4,3,3.8,4.9],[6,3,3.8,4.3]];
const r260 = [[4,3,3.55,5.1],[12,6,3.8,4.3]];
const r280 = [[4,3,3.7,5.2]];
const r300 = [[2,9,3.9,4.5],[4,3,3.85,5.4]];
const r360 = [[4,3,3.8,4.4],[15,4,3.8,4.2]];
const r420 = [[12,6,3.5,4.3],[15,4,3.5,5.05],[15,5,3.5,4.6]];
const r480 = [[15,4,3.5,4.8],[15,5,3.5,4.6]];
const r540 = [[10,5,3.6,4.1]];
const r600 = [];
const r660 = [];
const ri200 = [[19,1,2.9,4.2]];
const ri220 = [[19,1,2.75,4.15]];
const ri240 = [[19,1,2.8,3.9]];
const ri260 = [[12,4,2.8,3.2],[19,1,2.8,3.9]];
const ri280 = [[15,0,2.7,3.7]];
const ri300 = [];
const ri360 = [[2,5,2.6,3.1],[5,1,2.6,3.5],[12,4,2.7,3.0],[15,0,2.6,3.5]];
const ri420 = [[5,1,2.7,3.7],[12,4,2.5,3.3],[15,0,2.5,3.6],[16,1,2.5,3.6]];
const ri480 = [[1,4,2.6,3.4],[5,1,2.6,4.1],[6,3,2.6,3.2],[9,4,2.7,3.0],[15,0,2.6,3.2],[20,8,2.6,3.2]];
const ri540 = [[1,8,2.6,3.3],[5,1,2.6,3.9]];
const ri600 = [[5,1,2.4,4.7],[6,3,2.6,4.35],[12,1,3.1,3.6]];
const ri660 = [[3,2,2.5,3.0],[3,8,2.65,5.3],[4,2,2.5,3.8],[5,1,2.5,5.3],[9,6,2.5,3.4]];

// ---------- layout ----------
const groups = [
  {col:0, base:50.7, ages:earlyAges, vals:[a060,a080,a100,a120,a140,a160], reds:[r060,r080,r100,r120,r140,r160], label:groupLabels[0], ly:134},
  {col:0, base:271.0, ages:midAges, vals:[a200,a220,a240,a260,a280,a300], reds:[r200,r220,r240,r260,r280,r300], label:groupLabels[1], ly:340},
  {col:0, base:493.3, ages:lateAges, vals:[a360,a420,a480,a540,a600,a660], reds:[r360,r420,r480,r540,r600,r660], label:groupLabels[2], ly:562},
  {col:1, base:271.0, ages:midAges, vals:[i200,i220,i240,i260,i280,i300], reds:[ri200,ri220,ri240,ri260,ri280,ri300], label:groupLabels[3], ly:340},
  {col:1, base:493.3, ages:lateAges, vals:[i360,i420,i480,i540,i600,i660], reds:[ri360,ri420,ri480,ri540,ri600,ri660], label:groupLabels[4], ly:562}
];
const STEP = 34.3, YMAX = 6.8, GRID_H = YMAX * 26 / 6, PLOT_W = 312;
const COL_LEFT = [28, 389];
const FONT = 'DejaVu Sans';
const SQUEEZE = 0.76;   // the reference figure is horizontally compressed

const starts = []; let acc = 0;
chrLengths.forEach(L => { starts.push(acc); acc += L; });
const total = acc;
const mids = chrLengths.map((L, i) => starts[i] + L / 2);
function pos(c, j, n) { return starts[c] + chrLengths[c] * (0.03 + 0.94 * j / Math.max(1, n - 1)); }
function chrLabel(v) { let best = 0; mids.forEach((m, i) => { if (Math.abs(m - v) < Math.abs(mids[best] - v)) best = i; }); return chrNames[best]; }

// fit title width to the reference (~687 px)
const mctx = document.createElement('canvas').getContext('2d');
mctx.font = '15px "DejaVu Sans"';
const titleScale = 687 / mctx.measureText(titleText).width;

const grids = [], xAxes = [], yAxes = [], series = [], graphics = [];
let k = 0;
groups.forEach(g => {
  const left = COL_LEFT[g.col];
  g.vals.forEach((vals, i) => {
    const y0 = g.base + i * STEP;
    grids.push({left: left, top: y0 - GRID_H, width: PLOT_W, height: GRID_H, outerBoundsMode: 'none', containLabel: false});
    const bottom = i === g.vals.length - 1;
    xAxes.push({gridIndex: k, type: 'value', min: 0, max: total,
      axisLine: {show: false}, axisTick: {show: false}, splitLine: {show: false},
      axisLabel: {show: bottom, customValues: mids, formatter: v => chrLabel(v), fontSize: 6.5, color: '#333', margin: 2, fontFamily: FONT}});
    yAxes.push({gridIndex: k, type: 'value', min: 0, max: YMAX, interval: 3,
      axisLine: {show: false}, axisTick: {show: false}, splitLine: {show: false},
      axisLabel: {fontSize: 6, color: '#333', margin: g.col === 0 ? 3 : 4, fontFamily: FONT,
        formatter: v => (yTickValues.indexOf(v) >= 0 ? String(v) : '')},
      name: g.ages[i], nameLocation: 'middle', nameRotate: 90, nameGap: g.col === 0 ? 8 : 9,
      nameTextStyle: {fontSize: 7, color: '#222', fontFamily: FONT}});
    const grey = [], orange = [];
    vals.forEach((arr, c) => {
      const tgt = c % 2 === 0 ? grey : orange;
      arr.forEach((v, j) => tgt.push([pos(c, j, arr.length), v]));
      tgt.push([starts[c] + chrLengths[c], '-']);
    });
    series.push({type: 'line', xAxisIndex: k, yAxisIndex: k, data: grey, symbol: 'none', silent: true,
      lineStyle: {color: '#8a8a8a', width: 1.1}, areaStyle: {color: '#9a9a9a', opacity: 0.28}, connectNulls: false, z: 2});
    series.push({type: 'line', xAxisIndex: k, yAxisIndex: k, data: orange, symbol: 'none', silent: true,
      lineStyle: {color: '#ffa500', width: 1.1}, areaStyle: {color: '#ffb732', opacity: 0.28}, connectNulls: false, z: 2});
    const reds = g.reds[i];
    if (reds.length) {
      series.push({type: 'custom', xAxisIndex: k, yAxisIndex: k, silent: true, z: 5,
        data: reds.map(r => { const c = r[0] - 1; return [pos(c, r[1], vals[c].length), r[2], r[3]]; }),
        encode: {x: 0, y: [1, 2]},
        renderItem: (params, api) => {
          const x = api.value(0);
          const top = api.coord([x, api.value(2)]);
          const bot = api.coord([x, api.value(1)]);
          return {type: 'rect', shape: {x: top[0] - 1.5, y: top[1] - 1.5, width: 3, height: bot[1] - top[1] + 3, r: 1.5},
            style: {fill: '#ee2a2a'}};
        }});
    }
    k++;
  });
  graphics.push({type: 'text', x: g.col === 0 ? 6 : 364, y: g.ly, rotation: Math.PI / 2, scaleY: SQUEEZE,
    style: {text: g.label, fontSize: 10.5, fontFamily: FONT, fill: '#222', align: 'center', verticalAlign: 'middle'}});
});
graphics.push({type: 'text', x: 353, y: 11, scaleX: titleScale,
  style: {text: titleText, fontSize: 15, fontFamily: FONT, fill: '#1a1a1a', align: 'center', verticalAlign: 'middle'}});

const chart = echarts.init(document.getElementById('c'), null, {renderer: 'canvas'});
chart.setOption({
  animation: false,
  backgroundColor: '#ffffff',
  grid: grids, xAxis: xAxes, yAxis: yAxes, series: series, graphic: graphics
});
</script>
</body>
</html>
